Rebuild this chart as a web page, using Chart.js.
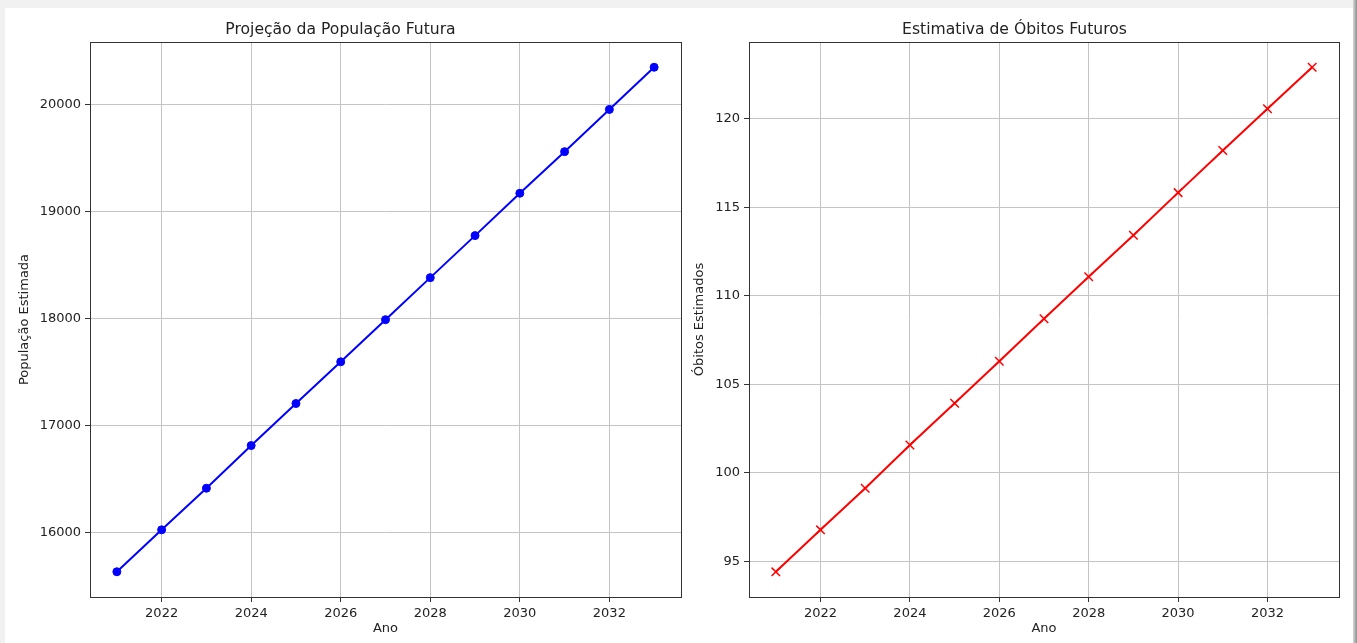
<!DOCTYPE html>
<html>
<head>
<meta charset="utf-8">
<script src="https://cdn.jsdelivr.net/npm/chart.js@4.4.1/dist/chart.umd.min.js"></script>
<style>
  html, body { margin: 0; padding: 0; }
  body { width: 1357px; height: 643px; position: relative; overflow: hidden; background: #f1f1f1; }
  #sheet { position: absolute; left: 5px; top: 8px; width: 1348px; height: 635px; background: #fff; }
  #edge { position: absolute; left: 1353px; top: 0; width: 4px; height: 643px; background: linear-gradient(to right, #d8d8d8, #8c8c8c); }
  .box { position: absolute; top: 0; height: 643px; }
  #box1 { left: 0; width: 690px; }
  #box2 { left: 690px; width: 667px; }
</style>
</head>
<body>
<div id="sheet"></div>
<div id="edge"></div>
<div class="box" id="box1"><canvas id="pop-chart"></canvas></div>
<div class="box" id="box2"><canvas id="obitos-chart"></canvas></div>
<script>
var anos = [2021, 2022, 2023, 2024, 2025, 2026, 2027, 2028, 2029, 2030, 2031, 2032, 2033];
var populacao = [15633, 16025, 16414, 16813, 17206, 17596, 17990, 18383, 18776, 19172, 19561, 19956, 20350];
var obitos = [94.42, 96.79, 99.14, 101.58, 103.93, 106.30, 108.70, 111.07, 113.42, 115.82, 118.20, 120.55, 122.90];
var anoTicks = [2022, 2024, 2026, 2028, 2030, 2032];
var popTicks = [16000, 17000, 18000, 19000, 20000];
var obitosTicks = [95, 100, 105, 110, 115, 120];

var fonte = 'DejaVu Sans';
Chart.defaults.font.family = fonte;
Chart.defaults.color = '#222';

// moldura completa (spines do matplotlib)
var moldura = {
    id: 'moldura',
    afterDatasetsDraw: function (chart) {
        var a = chart.chartArea, ctx = chart.ctx;
        ctx.save();
        ctx.strokeStyle = '#333';
        ctx.lineWidth = 1;
        ctx.strokeRect(Math.round(a.left) + 0.5, Math.round(a.top) + 0.5,
            Math.round(a.right - a.left), Math.round(a.bottom - a.top));
        ctx.restore();
    }
};

function fixTicks(lista) {
    return function (scale) {
        scale.ticks = lista.map(function (v) { return { value: v }; });
    };
}

function montar(id, titulo, rotuloY, valores, yTicks, yMin, yMax, cor, estilo, raio, yLargura, padDir, yTituloPad) {
    return new Chart(document.getElementById(id), {
        type: 'line',
        data: {
            datasets: [{
                data: anos.map(function (a, i) { return { x: a, y: valores[i] }; }),
                borderColor: cor,
                backgroundColor: cor,
                borderWidth: 2,
                lineTension: 0,
                fill: false,
                pointStyle: estilo,
                pointRadius: raio,
                pointBorderWidth: estilo === 'circle' ? 1 : 1.5,
                pointBackgroundColor: cor,
                pointBorderColor: cor
            }]
        },
        options: {
            responsive: true,
            maintainAspectRatio: false,
            animation: false,
            layout: { padding: { left: 0, right: padDir, top: 0, bottom: 0 } },
            plugins: {
                legend: { display: false },
                tooltip: { enabled: false },
                title: {
                    display: true,
                    text: titulo,
                    color: '#222',
                    font: { size: 15.6, weight: 'normal' },
                    padding: { top: 21, bottom: 2.3 }
                }
            },
            scales: {
                x: {
                    type: 'linear',
                    min: 2020.4,
                    max: 2033.6,
                    afterBuildTicks: fixTicks(anoTicks),
                    afterFit: function (s) { s.height = 46; },
                    grid: { color: '#c4c4c4', tickColor: '#333', tickLength: 5, lineWidth: 1 },
                    border: { display: false },
                    ticks: { font: { size: 13 }, padding: 3.5, maxRotation: 0, callback: function (v) { return String(v); } },
                    title: { display: true, text: 'Ano', font: { size: 13 }, padding: { top: 0, bottom: 7 } }
                },
                y: {
                    type: 'linear',
                    min: yMin,
                    max: yMax,
                    afterBuildTicks: fixTicks(yTicks),
                    afterFit: function (s) { s.width = yLargura; },
                    grid: { color: '#c4c4c4', tickColor: '#333', tickLength: 5, lineWidth: 1 },
                    border: { display: false },
                    ticks: { font: { size: 13 }, padding: 4, callback: function (v) { return String(v); } },
                    title: { display: true, text: rotuloY, font: { size: 13 }, padding: { top: yTituloPad, bottom: 0 } }
                }
            }
        },
        plugins: [moldura]
    });
}

montar('pop-chart', 'Projeção da População Futura', 'População Estimada', populacao, popTicks,
    15397, 20586, 'rgb(0,0,255)', 'circle', 4, 90, 9, 17.2);
montar('obitos-chart', 'Estimativa de Óbitos Futuros', 'Óbitos Estimados', obitos, obitosTicks,
    93.0, 124.32, 'rgb(255,0,0)', 'crossRot', 6, 59, 18, 2.2);
</script>
</body>
</html>
